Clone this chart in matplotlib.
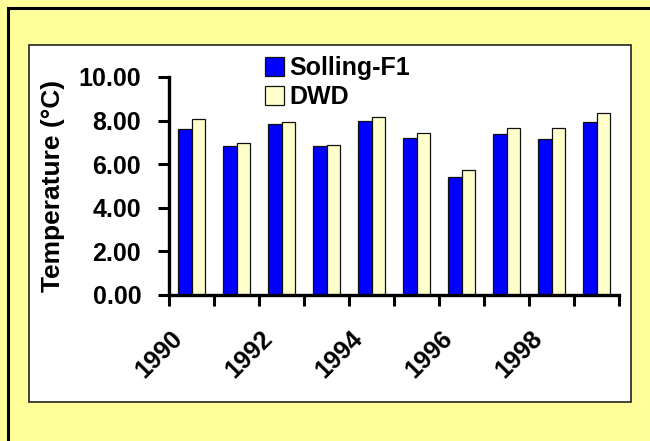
import matplotlib
matplotlib.use("Agg")
import matplotlib.pyplot as plt
from matplotlib.patches import Rectangle
from matplotlib.lines import Line2D
import matplotlib.transforms as mtransforms
import numpy as np

years = ["1990", "1991", "1992", "1993", "1994", "1995", "1996", "1997", "1998", "1999"]
solling = [7.61, 6.83, 7.83, 6.83, 7.98, 7.20, 5.41, 7.39, 7.14, 7.95]
dwd = [8.07, 6.99, 7.94, 6.87, 8.18, 7.43, 5.75, 7.65, 7.65, 8.35]
yticks = [0, 2, 4, 6, 8, 10]
series_names = ["Solling-F1", "DWD"]

plt.rcParams['font.family'] = ['Liberation Sans', 'DejaVu Sans']
plt.rcParams['font.weight'] = 'bold'

W, H = 650, 441
fig = plt.figure(figsize=(W / 100, H / 100), dpi=100)
fig.patch.set_facecolor('#FFFF99')

def fx(px):
    return px / W

def fy(py):
    return 1 - py / H

# white inner panel
fig.patches.append(Rectangle((fx(29), fy(402)), fx(631) - fx(29), fy(45) - fy(402),
                             transform=fig.transFigure, facecolor='white',
                             edgecolor='#222222', linewidth=1.2, zorder=-5))
# outer border (left and top)
fig.lines.append(Line2D([fx(8), fx(8)], [fy(8), 0], transform=fig.transFigure,
                        color='black', linewidth=2.2, zorder=-5))
fig.lines.append(Line2D([fx(8), 1], [fy(8), fy(8)], transform=fig.transFigure,
                        color='black', linewidth=2.2, zorder=-5))

ax = fig.add_axes([fx(169), fy(295), fx(619) - fx(169), fy(77) - fy(295)])
ax.set_facecolor('none')
ax.set_zorder(2)

n = len(years)
x = np.arange(n) + 0.5
w = 0.29
b1 = ax.bar(x - w / 2, solling, w, color='#0000FF', edgecolor='#111111', linewidth=0.9,
            label=series_names[0])
b2 = ax.bar(x + w / 2, dwd, w, color='#FFFFCC', edgecolor='#111111', linewidth=0.9,
            label=series_names[1])

ax.set_xlim(0, n)
ax.set_ylim(0, 10)

for s in ['top', 'right']:
    ax.spines[s].set_visible(False)
for s in ['left', 'bottom']:
    ax.spines[s].set_linewidth(2.4)

ax.set_yticks(yticks)
ax.set_yticklabels([f"{v:.2f}" for v in yticks], fontsize=18, fontweight='bold')
ax.tick_params(axis='y', length=8, width=2.2, pad=12, direction='out')

ax.set_xticks(np.arange(n + 1))
ax.set_xticklabels([])
ax.tick_params(axis='x', length=8, width=2.2, direction='out')

# rotated year labels (every other)
for i in range(0, n, 2):
    trans = mtransforms.offset_copy(ax.transData, fig=fig, x=-13, y=-40, units='dots')
    ax.text(x[i], 0, years[i], transform=trans, rotation=45, rotation_mode='anchor',
            ha='right', va='center', fontsize=18, fontweight='bold', clip_on=False)

fig.text(fx(53), fy(186), "Temperature (°C)", rotation=90, ha='center', va='center',
         fontsize=19, fontweight='bold', zorder=3)

leg = ax.legend(handles=[b1, b2], loc='upper left', bbox_to_anchor=(fx(265), fy(56)),
                bbox_transform=fig.transFigure, frameon=False,
                handlelength=0.76, handleheight=0.76, handletextpad=0.2,
                labelspacing=0.2, borderpad=0, borderaxespad=0,
                prop={'weight': 'bold', 'size': 18})

fig.savefig("out.png", dpi=100, facecolor=fig.get_facecolor())
